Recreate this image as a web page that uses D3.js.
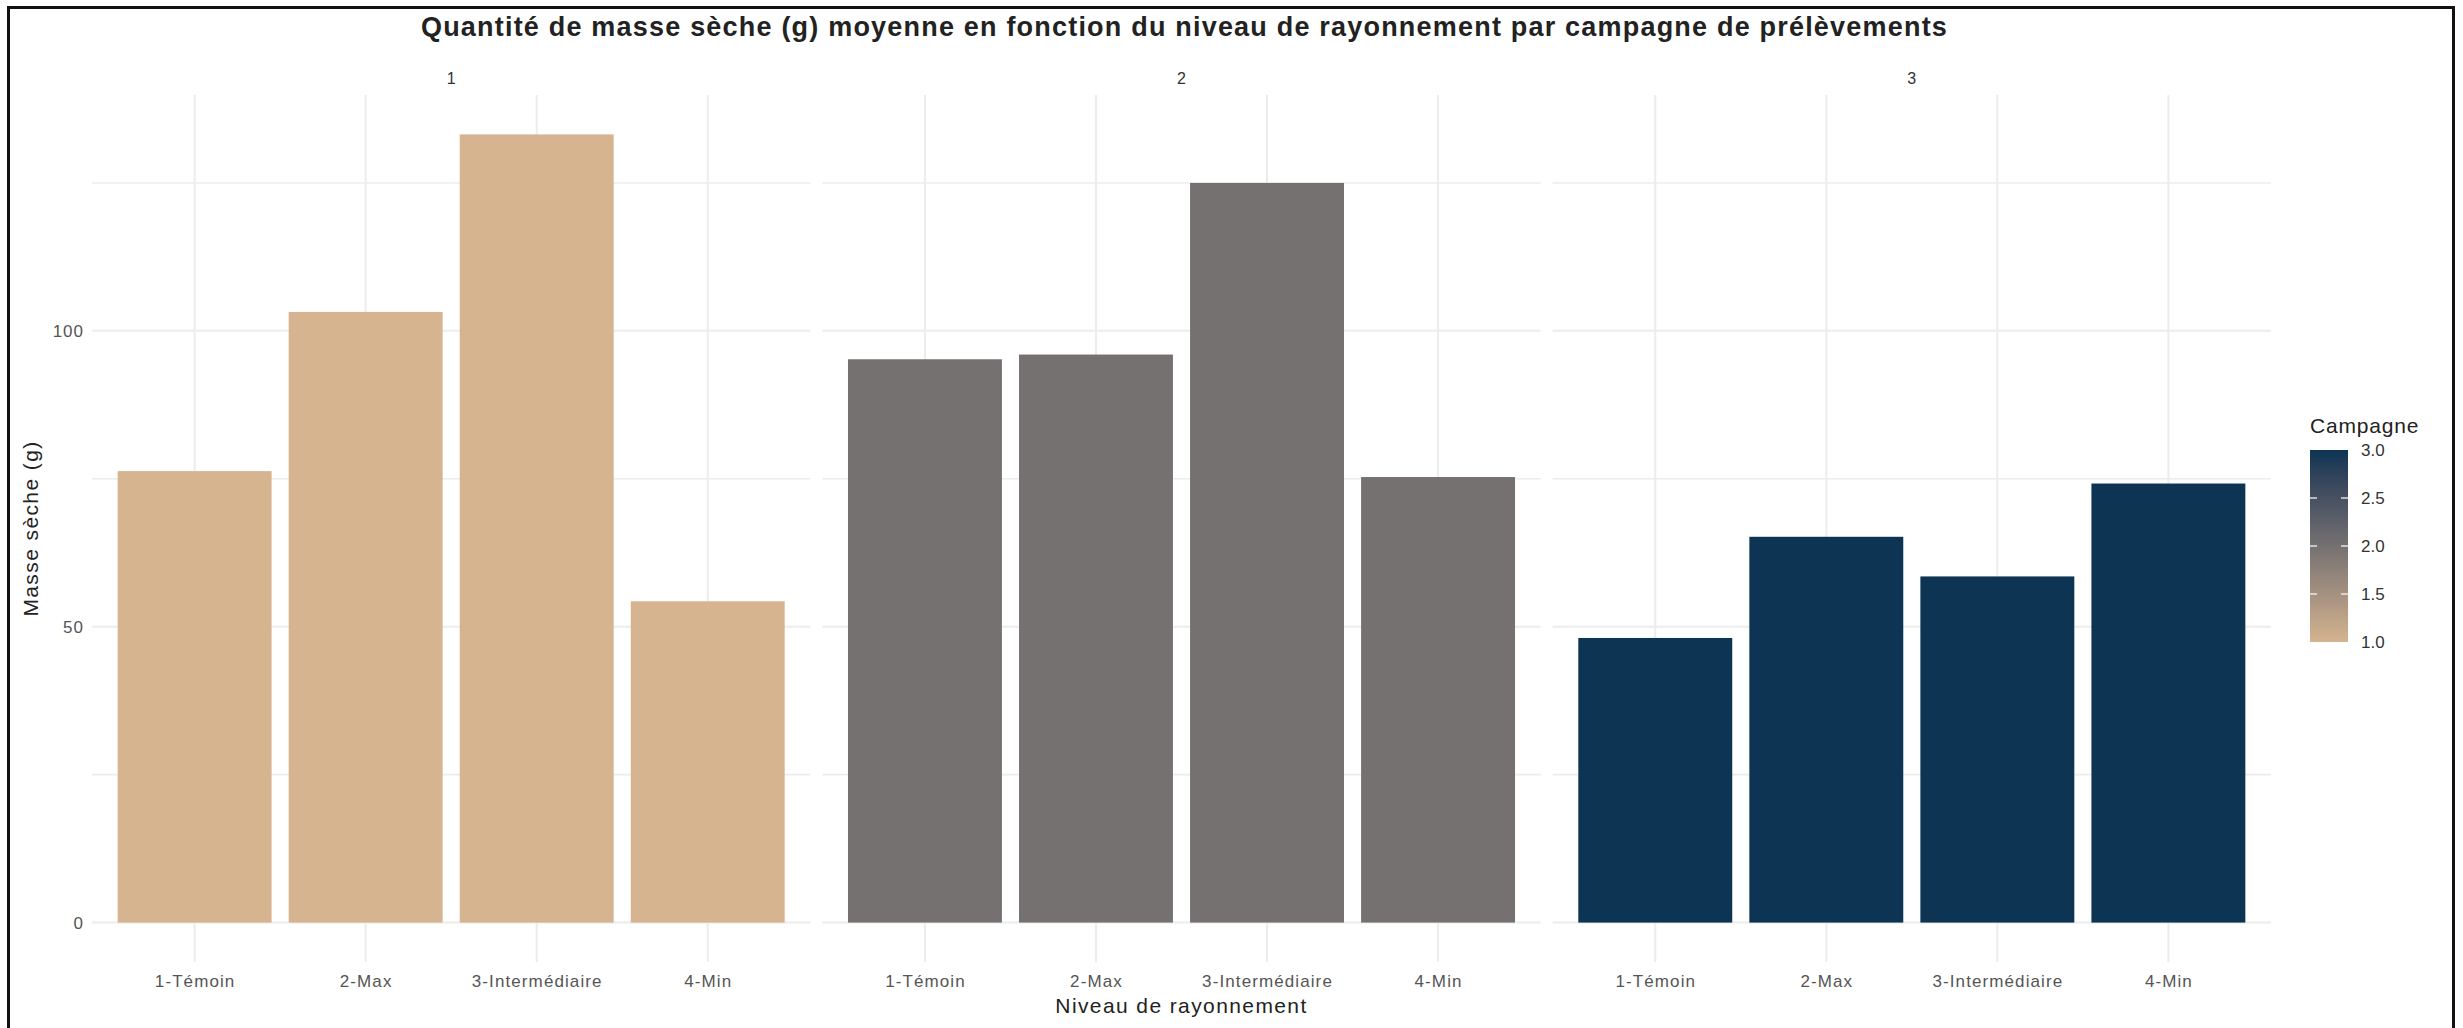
<!DOCTYPE html>
<html>
<head>
<meta charset="utf-8">
<script src="https://cdn.jsdelivr.net/npm/d3@7"></script>
<style>
  body { margin: 0; background: #fff; }
  text { font-family: "Liberation Sans", Arial, sans-serif; }
</style>
</head>
<body>
<div id="chart"></div>
<script>
// data
var niveaux = ["1-Témoin", "2-Max", "3-Intermédiaire", "4-Min"];
var campagnes = [1, 2, 3];
var masseC1 = [76.3, 103.2, 133.2, 54.3];
var masseC2 = [95.2, 96.0, 125.0, 75.3];
var masseC3 = [48.1, 65.2, 58.5, 74.2];
var yTicks = [0, 50, 100];
var yMinor = [25, 75, 125];
var legendTicks = [1.0, 1.5, 2.0, 2.5, 3.0];

var width = 2463, height = 1028;
var panelTop = 95, panelBottom = 962, plotLeft = 92, plotRight = 2271;

var series = [masseC1, masseC2, masseC3];
var data = [];
campagnes.forEach(function(c, i) {
  niveaux.forEach(function(n, j) {
    data.push({campagne: c, niveau: n, masse: series[i][j]});
  });
});

var svg = d3.select("#chart")
  .append("svg")
  .attr("width", width)
  .attr("height", height);

svg.append("rect")
  .attr("width", width).attr("height", height)
  .attr("fill", "#fff");

// ggplot style 5% expansion on the continuous axis
var maxVal = d3.max(data, function(d) { return d.masse; });
var pad = maxVal * 0.05;
var y = d3.scaleLinear()
  .domain([-pad, maxVal + pad])
  .range([panelBottom, panelTop]);

var facet = d3.scaleBand()
  .domain(campagnes)
  .range([plotLeft, plotRight])
  .paddingInner(0.0164);

var x = d3.scalePoint()
  .domain(niveaux)
  .range([0, facet.bandwidth()])
  .padding(0.6);
var barWidth = x.step() * 0.9;

var fillScale = d3.scaleLinear()
  .domain([1, 3])
  .range(["#d5b48f", "#0d3452"])
  .interpolate(d3.interpolateLab);

var gridColor = "#ececec";

// panels
campagnes.forEach(function(c) {
  var g = svg.append("g")
    .attr("transform", "translate(" + facet(c) + ",0)");

  g.selectAll(".hminor")
    .data(yMinor)
    .enter().append("line")
    .attr("x1", 0).attr("x2", facet.bandwidth())
    .attr("y1", function(d) { return y(d); })
    .attr("y2", function(d) { return y(d); })
    .attr("stroke", gridColor).attr("stroke-width", 1.6);

  g.selectAll(".hmajor")
    .data(yTicks)
    .enter().append("line")
    .attr("x1", 0).attr("x2", facet.bandwidth())
    .attr("y1", function(d) { return y(d); })
    .attr("y2", function(d) { return y(d); })
    .attr("stroke", gridColor).attr("stroke-width", 2);

  g.selectAll(".vmajor")
    .data(niveaux)
    .enter().append("line")
    .attr("x1", function(d) { return x(d); })
    .attr("x2", function(d) { return x(d); })
    .attr("y1", panelTop).attr("y2", panelBottom)
    .attr("stroke", gridColor).attr("stroke-width", 2);

  g.selectAll(".bar")
    .data(data.filter(function(d) { return d.campagne === c; }))
    .enter().append("rect")
    .attr("x", function(d) { return x(d.niveau) - barWidth / 2; })
    .attr("width", barWidth)
    .attr("y", function(d) { return y(d.masse); })
    .attr("height", function(d) { return y(0) - y(d.masse); })
    .attr("fill", function(d) { return fillScale(d.campagne); });

  // strip label
  g.append("text")
    .attr("x", facet.bandwidth() / 2)
    .attr("y", 84)
    .attr("text-anchor", "middle")
    .attr("font-size", "16px")
    .attr("fill", "#333")
    .text(c);

  var xAxis = d3.axisBottom(x).tickSize(0).tickPadding(13);
  var ax = g.append("g")
    .attr("transform", "translate(0," + panelBottom + ")")
    .call(xAxis);
  ax.select(".domain").remove();
  ax.selectAll("text")
    .attr("font-size", "17px")
    .attr("letter-spacing", "1.1px")
    .attr("fill", "#555");
});

// y axis on the first panel only
var yAxis = d3.axisLeft(y).tickValues(yTicks).tickSize(0).tickPadding(8);
var yg = svg.append("g")
  .attr("transform", "translate(" + plotLeft + ",0)")
  .call(yAxis);
yg.select(".domain").remove();
yg.selectAll("text")
  .attr("font-size", "17px")
  .attr("letter-spacing", "1px")
  .attr("fill", "#555");

// titles
svg.append("text")
  .attr("x", (plotLeft + plotRight) / 2 + 3)
  .attr("y", 36)
  .attr("text-anchor", "middle")
  .attr("font-size", "27px")
  .attr("font-weight", "bold")
  .attr("letter-spacing", "1.2px")
  .attr("fill", "#222")
  .text("Quantité de masse sèche (g) moyenne en fonction du niveau de rayonnement par campagne de prélèvements");

svg.append("text")
  .attr("x", (plotLeft + plotRight) / 2)
  .attr("y", 1013)
  .attr("text-anchor", "middle")
  .attr("font-size", "21px")
  .attr("letter-spacing", "1.4px")
  .attr("fill", "#222")
  .text("Niveau de rayonnement");

svg.append("text")
  .attr("transform", "translate(38," + (panelTop + panelBottom) / 2 + ") rotate(-90)")
  .attr("text-anchor", "middle")
  .attr("font-size", "21px")
  .attr("letter-spacing", "1.4px")
  .attr("fill", "#222")
  .text("Masse sèche (g)");

// colour bar legend
var legX = 2310, legW = 38, legTop = 450, legBottom = 642;
var ly = d3.scaleLinear().domain([1, 3]).range([legBottom, legTop]);

var grad = svg.append("defs").append("linearGradient")
  .attr("id", "campGrad")
  .attr("x1", 0).attr("y1", 1).attr("x2", 0).attr("y2", 0);
d3.range(0, 1.01, 0.1).forEach(function(t) {
  grad.append("stop")
    .attr("offset", t)
    .attr("stop-color", fillScale(1 + 2 * t));
});

svg.append("text")
  .attr("x", legX)
  .attr("y", 433)
  .attr("font-size", "21px")
  .attr("letter-spacing", "0.8px")
  .attr("fill", "#222")
  .text("Campagne");

svg.append("rect")
  .attr("x", legX).attr("y", legTop)
  .attr("width", legW).attr("height", legBottom - legTop)
  .attr("fill", "url(#campGrad)");

svg.selectAll(".legtick")
  .data(legendTicks.filter(function(d) { return d > 1 && d < 3; }))
  .enter().append("g")
  .each(function(d) {
    var g = d3.select(this);
    g.append("line")
      .attr("x1", legX).attr("x2", legX + 7)
      .attr("y1", ly(d)).attr("y2", ly(d))
      .attr("stroke", "#fff").attr("stroke-width", 1.2);
    g.append("line")
      .attr("x1", legX + legW - 7).attr("x2", legX + legW)
      .attr("y1", ly(d)).attr("y2", ly(d))
      .attr("stroke", "#fff").attr("stroke-width", 1.2);
  });

var legAxis = d3.axisRight(ly).tickValues(legendTicks).tickFormat(d3.format(".1f")).tickSize(0).tickPadding(13);
var lg = svg.append("g")
  .attr("transform", "translate(" + (legX + legW) + ",0)")
  .call(legAxis);
lg.select(".domain").remove();
lg.selectAll("text")
  .attr("font-size", "17px")
  .attr("fill", "#333");

// outer frame
svg.append("rect")
  .attr("x", 8.5).attr("y", 7.5)
  .attr("width", 2445).attr("height", 1040)
  .attr("fill", "none")
  .attr("stroke", "#111")
  .attr("stroke-width", 3);
</script>
</body>
</html>
